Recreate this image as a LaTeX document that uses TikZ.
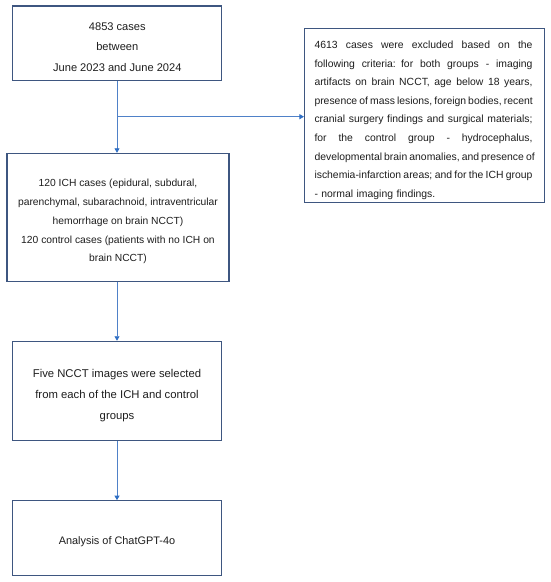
\documentclass[tikz,border=0pt]{standalone}
\usepackage{fontspec}
\setmainfont{Liberation Sans}
\usetikzlibrary{arrows.meta,calc}
\definecolor{boxc}{RGB}{62,86,128}
\definecolor{linec}{RGB}{79,129,200}
\definecolor{tipc}{RGB}{46,110,196}
\definecolor{txtc}{RGB}{30,30,30}
\newcommand{\jl}[1]{\leavevmode\hbox to 218pt{\spaceskip=.2em plus 1fil\relax #1}\par}
\begin{document}
\begin{tikzpicture}[x=1pt,y=1pt,
  flowbox/.style={draw=boxc,line width=1.1pt,fill=white,inner sep=0pt},
  txt/.style={inner sep=0pt,text=txtc,align=center},
  conn/.style={draw=linec,line width=0.8pt},
  arr/.style={conn,-{Triangle[width=5pt,length=4.5pt,color=tipc]}}]
\useasboundingbox (0,0) rectangle (550,-582);
% boxes
\node[flowbox,minimum width=209pt,minimum height=74.7pt] (a) at (117.3,-43.3) {};
\node[flowbox,minimum width=240pt,minimum height=174.4pt] (ex) at (424.5,-115.5) {};
\node[flowbox,minimum width=222pt,minimum height=127.7pt] (b) at (118,-217.2) {};
\node[flowbox,minimum width=209.4pt,minimum height=99.4pt] (c) at (117,-391) {};
\node[flowbox,minimum width=209.4pt,minimum height=74.6pt] (d) at (117,-538) {};
% texts
\node[txt,font=\fontsize{11.1}{20.5}\selectfont] (at) at ($(a)+(0,-3.8)$) {4853 cases\\between\\June 2023 and June 2024};
\node[txt,text width=218pt,align=left,font=\fontsize{10.4}{18.6}\selectfont] (ext) at ($(ex)+(-1,-4.8)$) {\jl{4613 cases were excluded based on the}\jl{following criteria: for both groups - imaging}\jl{artifacts on brain NCCT, age below 18 years,}\jl{presence of mass lesions, foreign bodies, recent}\jl{cranial surgery findings and surgical materials;}\jl{for the control group - hydrocephalus,}\jl{developmental brain anomalies, and presence of}\jl{ischemia-infarction areas; and for the ICH group}- normal imaging findings.};
\node[txt,font=\fontsize{10.3}{18.7}\selectfont] (bt) at ($(b)+(0,-4.5)$) {120 ICH cases (epidural, subdural,\\parenchymal, subarachnoid, intraventricular\\hemorrhage on brain NCCT)\\120 control cases (patients with no ICH on\\brain NCCT)};
\node[txt,font=\fontsize{11.3}{21}\selectfont] (ct) at ($(c)+(0,-4.5)$) {Five NCCT images were selected\\from each of the ICH and control\\groups};
\node[txt,font=\fontsize{10.9}{20}\selectfont] (dt) at ($(d)+(0,-3.5)$) {Analysis of ChatGPT-4o};
% connectors
\coordinate (j) at (117,-116.7);
\draw[conn] (a.south -| j) -- (j);
\draw[arr] (j) -- (j -| ex.west);
\draw[arr] (j) -- (j |- b.north);
\draw[arr] (b.south -| j) -- (j |- c.north);
\draw[arr] (c.south -| j) -- (j |- d.north);
\end{tikzpicture}
\end{document}
